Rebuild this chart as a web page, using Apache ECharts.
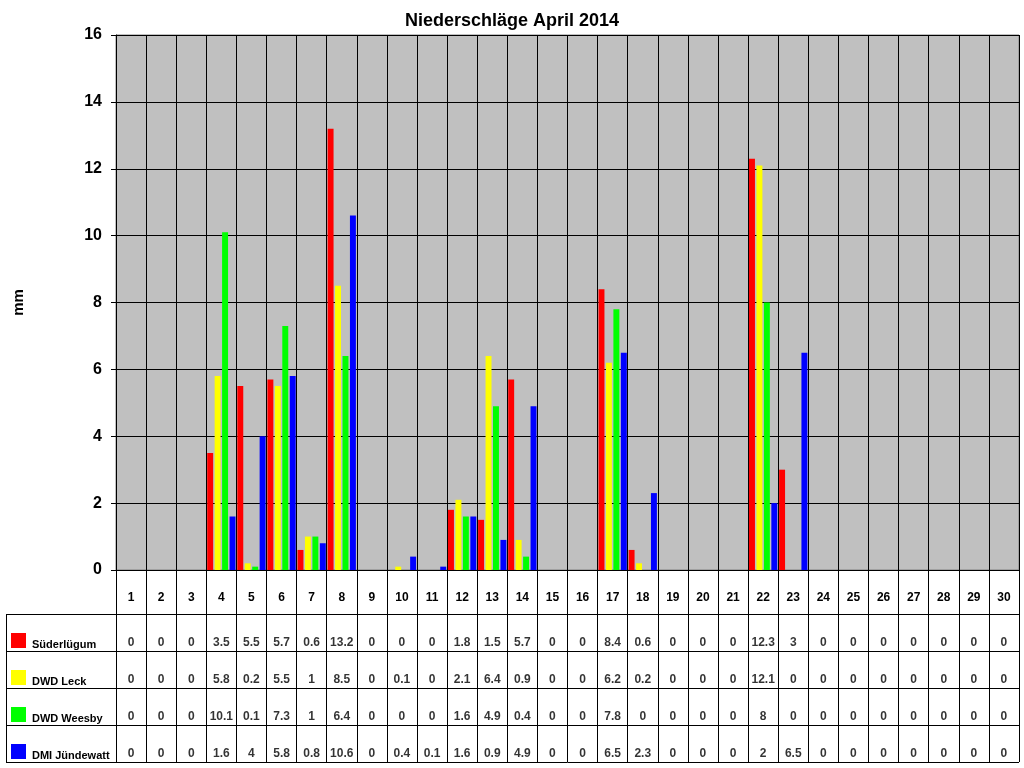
<!DOCTYPE html>
<html>
<head>
	<meta charset="UTF-8">
	<script src="https://cdn.jsdelivr.net/npm/echarts@6/dist/echarts.min.js"></script>
	<title>Niederschläge April 2014</title>
	<style>body{margin:0;background:#fff;}</style>
</head>
<body>
	<div id="main" style="height:768px;width:1024px;"></div>
	<script type="text/javascript">
        // Tage und Messwerte (mm)
        var days = [];
        for (var d = 1; d <= 30; d++) days.push(String(d));
        var stations = ['Süderlügum', 'DWD Leck', 'DWD Weesby', 'DMI Jündewatt'];
        var colors = ['#ff0000', '#ffff00', '#00ff00', '#0000ff'];
        var suederluegum = [0,0,0,3.5,5.5,5.7,0.6,13.2,0,0,0,1.8,1.5,5.7,0,0,8.4,0.6,0,0,0,12.3,3,0,0,0,0,0,0,0];
        var leck         = [0,0,0,5.8,0.2,5.5,1,8.5,0,0.1,0,2.1,6.4,0.9,0,0,6.2,0.2,0,0,0,12.1,0,0,0,0,0,0,0,0];
        var weesby       = [0,0,0,10.1,0.1,7.3,1,6.4,0,0,0,1.6,4.9,0.4,0,0,7.8,0,0,0,0,8,0,0,0,0,0,0,0,0];
        var juendewatt   = [0,0,0,1.6,4,5.8,0.8,10.6,0,0.4,0.1,1.6,0.9,4.9,0,0,6.5,2.3,0,0,0,2,6.5,0,0,0,0,0,0,0];
        var values = [suederluegum, leck, weesby, juendewatt];

        var font = "'Liberation Sans', Arial, sans-serif";
        var myChart = echarts.init(document.getElementById('main'));

        var barSeries = [];
        var tableData = [];
        var rich = { t: { fontFamily: font, fontSize: 11, fontWeight: 'bold', color: '#000', lineHeight: 14, padding: [8, 0, 0, 6] } };
        for (var s = 0; s < stations.length; s++) {
            barSeries.push({
                name: stations[s],
                type: 'bar',
                xAxisIndex: 0, yAxisIndex: 0,
                data: values[s],
                barGap: '25%',
                barCategoryGap: '6%',
                itemStyle: { color: colors[s] },
                animation: false
            });
            for (var i = 0; i < days.length; i++) {
                tableData.push([i, s, values[s][i]]);
            }
            rich['s' + s] = { width: 15, height: 15, backgroundColor: colors[s], verticalAlign: 'top' };
        }

        var option = {
            animation: false,
            backgroundColor: '#fff',
            title: {
                text: 'Niederschläge April 2014',
                left: 'center', top: 7,
                textStyle: { fontFamily: font, fontSize: 18, fontWeight: 'bold', color: '#000' }
            },
            grid: [
                { left: 116, right: 5, top: 35, bottom: 198, show: true, backgroundColor: '#c0c0c0', borderColor: '#808080', borderWidth: 1 },
                { left: 116, right: 5, top: 614, bottom: 6 }
            ],
            xAxis: [
                {
                    type: 'category', gridIndex: 0, data: days,
                    axisLine: { lineStyle: { color: '#000' } },
                    axisTick: { show: true, length: 44, interval: 0, lineStyle: { color: '#000' } },
                    axisLabel: { interval: 0, margin: 22, fontFamily: font, fontSize: 12, fontWeight: 'bold', color: '#000' },
                    splitLine: { show: true, interval: 0, lineStyle: { color: '#000' } }
                },
                {
                    type: 'category', gridIndex: 1, data: days,
                    axisLine: { show: false },
                    axisTick: { show: false },
                    axisLabel: { show: false },
                    splitLine: { show: true, interval: 0, lineStyle: { color: '#000' } }
                }
            ],
            yAxis: [
                {
                    type: 'value', gridIndex: 0, min: 0, max: 16, interval: 2,
                    name: 'mm', nameLocation: 'middle', nameRotate: 90, nameGap: 90,
                    nameTextStyle: { fontFamily: font, fontSize: 15, fontWeight: 'bold', color: '#000' },
                    axisLine: { show: true, lineStyle: { color: '#000' } },
                    axisTick: { show: true, length: 5, lineStyle: { color: '#000' } },
                    axisLabel: { margin: 14, fontFamily: font, fontSize: 16, fontWeight: 'bold', color: '#000' },
                    splitLine: { show: true, lineStyle: { color: '#000' } }
                },
                {
                    type: 'category', gridIndex: 1, data: stations, inverse: true,
                    axisLine: { show: true, lineStyle: { color: '#000' } },
                    axisTick: { show: true, length: 110, interval: 0, lineStyle: { color: '#000' } },
                    axisLabel: {
                        interval: 0, margin: 105, align: 'left', padding: [16, 0, 0, 0],
                        formatter: function (v, idx) { return '{s' + idx + '|}{t|' + v + '}'; },
                        rich: rich
                    },
                    splitLine: { show: true, interval: 0, lineStyle: { color: '#000' } }
                }
            ],
            graphic: [
                { type: 'line', shape: { x1: 6.5, y1: 614, x2: 6.5, y2: 762 }, style: { stroke: '#000', lineWidth: 1 } }
            ],
            series: barSeries.concat([{
                type: 'scatter',
                xAxisIndex: 1, yAxisIndex: 1,
                symbolSize: 1,
                itemStyle: { color: 'rgba(0,0,0,0)' },
                silent: true,
                data: tableData,
                label: {
                    show: true, position: 'inside', offset: [0, 10],
                    formatter: function (p) { return p.value[2]; },
                    fontFamily: font, fontSize: 12, fontWeight: 'bold', color: '#000'
                }
            }])
        };
        myChart.setOption(option);
	</script>
</body>
</html>
